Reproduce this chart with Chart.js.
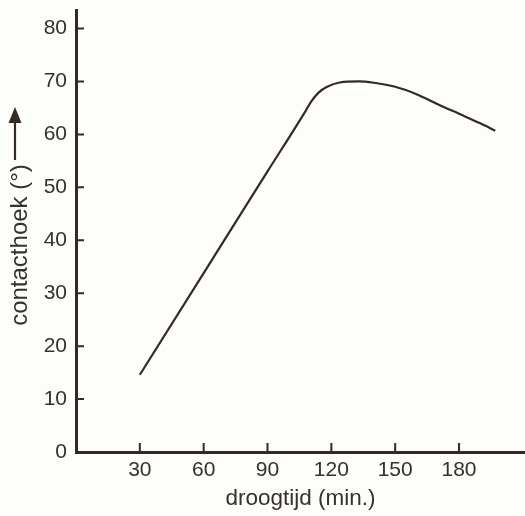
<!DOCTYPE html>
<html>
<head>
<meta charset="utf-8">
<script src="https://cdn.jsdelivr.net/npm/chart.js@4/dist/chart.umd.min.js"></script>
<style>
html,body{margin:0;padding:0;background:#fdfdfb;}
#wrap{width:525px;height:516px;position:relative;}
canvas{display:block;}
</style>
</head>
<body>
<div id="wrap"><canvas id="c" width="525" height="516"></canvas></div>
<script>
// ---- data ----
const droogtijd   = [30, 60, 90, 108, 110.5, 114, 118, 124, 133, 140, 150, 160, 170, 180, 190, 197];
const contacthoek = [14.6, 33.8, 53.0, 64.5, 66.2, 67.9, 69.0, 69.8, 70.0, 69.75, 69.0, 67.6, 65.7, 63.9, 62.1, 60.7];
const xTicks = [30, 60, 90, 120, 150, 180];
const yTicks = [0, 10, 20, 30, 40, 50, 60, 70, 80];
const xTitle = 'droogtijd (min.)';
const yTitle = 'contacthoek (°)';

const inkColor  = '#352926';
const textColor = '#36302e';
const fontFamily = '"Liberation Sans", Arial, Helvetica, sans-serif';

const points = droogtijd.map((x, i) => ({ x: x, y: contacthoek[i] }));

const decor = {
  id: 'decor',
  afterDraw(chart) {
    const ctx = chart.ctx, xs = chart.scales.x, ys = chart.scales.y, ca = chart.chartArea;
    ctx.save();
    ctx.strokeStyle = inkColor;
    ctx.lineWidth = 2;
    ctx.beginPath();
    xs.ticks.forEach(t => {
      const px = xs.getPixelForValue(t.value);
      ctx.moveTo(px, ca.bottom);
      ctx.lineTo(px, ca.bottom - 9);
    });
    ys.ticks.forEach(t => {
      if (t.value === 0) return;
      const py = ys.getPixelForValue(t.value);
      ctx.moveTo(ca.left, py);
      ctx.lineTo(ca.left + 8, py);
    });
    ctx.stroke();

    // y axis title (rotated) with upward arrow
    const cx = ca.left - 56;
    const cy = (ca.top + ca.bottom) / 2 + 14;
    ctx.save();
    ctx.translate(cx, cy);
    ctx.rotate(-Math.PI / 2);
    ctx.fillStyle = textColor;
    ctx.font = '24px ' + fontFamily;
    ctx.textAlign = 'center';
    ctx.textBaseline = 'middle';
    ctx.fillText(yTitle, 0, 0);
    ctx.restore();

    const ax = cx - 5;
    const tipY = cy - 138, baseY = cy - 85;
    ctx.strokeStyle = inkColor;
    ctx.fillStyle = inkColor;
    ctx.lineWidth = 2.2;
    ctx.beginPath();
    ctx.moveTo(ax, baseY);
    ctx.lineTo(ax, tipY + 12);
    ctx.stroke();
    ctx.beginPath();
    ctx.moveTo(ax, tipY);
    ctx.lineTo(ax - 6.5, tipY + 16);
    ctx.lineTo(ax + 6.5, tipY + 16);
    ctx.closePath();
    ctx.fill();
    ctx.restore();
  }
};

new Chart(document.getElementById('c'), {
  type: 'line',
  data: {
    datasets: [{
      data: points,
      borderColor: inkColor,
      borderWidth: 2.2,
      pointRadius: 0,
      fill: false,
      cubicInterpolationMode: 'monotone'
    }]
  },
  options: {
    responsive: false,
    animation: false,
    layout: { padding: { top: 10, left: 0, right: 0, bottom: 0 } },
    plugins: { legend: { display: false }, tooltip: { enabled: false } },
    scales: {
      x: {
        type: 'linear',
        min: 0,
        max: 211,
        afterBuildTicks: s => { s.ticks = xTicks.map(v => ({ value: v })); },
        afterFit: s => { s.height = 64; s.paddingLeft = 0; s.paddingRight = 0; },
        grid: { display: false, drawTicks: false },
        border: { display: true, color: inkColor, width: 3 },
        ticks: {
          padding: 6,
          color: textColor,
          autoSkip: false,
          maxRotation: 0,
          font: { family: fontFamily, size: 21 }
        },
        title: {
          display: true,
          text: xTitle,
          color: textColor,
          font: { family: fontFamily, size: 22.5 },
          padding: { top: 0, bottom: 4 }
        }
      },
      y: {
        type: 'linear',
        min: 0,
        max: 83.5,
        afterBuildTicks: s => { s.ticks = yTicks.map(v => ({ value: v })); },
        afterFit: s => { s.width = 76; s.paddingTop = 0; s.paddingBottom = 0; },
        grid: { display: false, drawTicks: false },
        border: { display: true, color: inkColor, width: 3 },
        ticks: {
          padding: 9,
          color: textColor,
          font: { family: fontFamily, size: 21 }
        },
        title: { display: false }
      }
    }
  },
  plugins: [decor]
});
</script>
</body>
</html>
